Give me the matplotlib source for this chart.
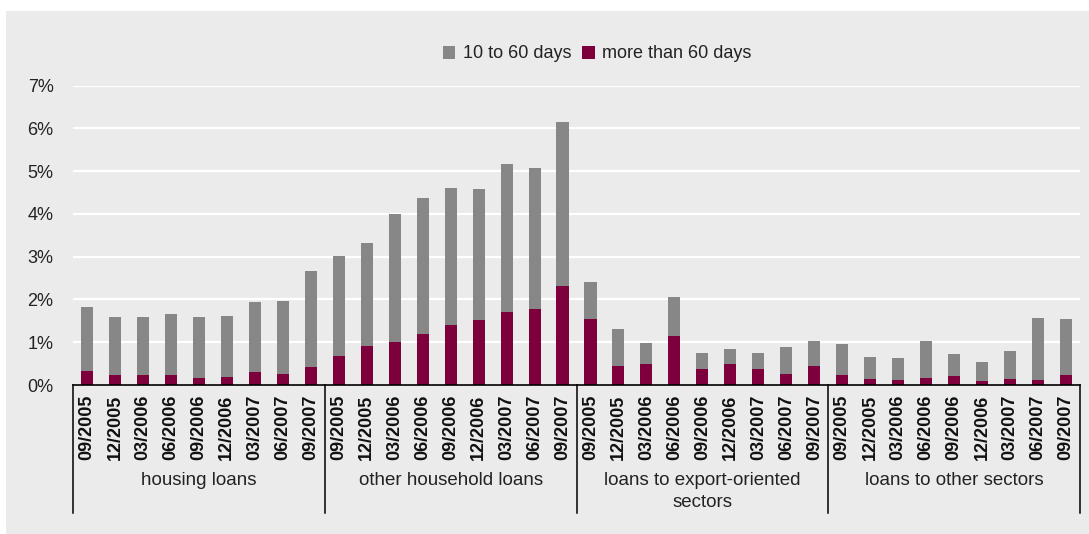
import numpy as np
import matplotlib.pyplot as plt
from matplotlib.patches import Rectangle
import matplotlib.transforms as mtransforms

plt.rcParams['font.family'] = ['Liberation Sans', 'DejaVu Sans']

quarters = ['09/2005', '12/2005', '03/2006', '06/2006', '09/2006',
            '12/2006', '03/2007', '06/2007', '09/2007']
groups = ['housing loans', 'other household loans',
          'loans to export-oriented\nsectors', 'loans to other sectors']

# share of loans more than 60 days overdue (%)
over_60 = [0.33, 0.23, 0.23, 0.23, 0.16, 0.19, 0.30, 0.26, 0.42,
           0.68, 0.91, 1.00, 1.19, 1.40, 1.52, 1.71, 1.78, 2.31,
           1.54, 0.44, 0.49, 1.14, 0.37, 0.49, 0.37, 0.26, 0.44,
           0.23, 0.14, 0.12, 0.16, 0.21, 0.09, 0.14, 0.12, 0.23]
# total overdue more than 10 days (%)
total = [1.82, 1.59, 1.59, 1.66, 1.59, 1.61, 1.94, 1.96, 2.66,
         3.01, 3.32, 4.00, 4.37, 4.60, 4.58, 5.16, 5.07, 6.14,
         2.41, 1.31, 0.98, 2.06, 0.75, 0.84, 0.75, 0.89, 1.03,
         0.96, 0.65, 0.63, 1.03, 0.72, 0.54, 0.79, 1.57, 1.54]
days_10_60 = list(np.array(total) - np.array(over_60))

GREY = '#878787'
MAROON = '#7d003d'
BG = '#ebebeb'

fig = plt.figure(figsize=(10.89, 5.34), dpi=100)
fig.patch.set_facecolor('white')
fig.patches.append(Rectangle((6 / 1089, 0), 1, 1 - 11 / 534, transform=fig.transFigure,
                             facecolor=BG, edgecolor='none', zorder=-10))

ax = fig.add_axes([73 / 1089, 149 / 534, 1007 / 1089, 299.5 / 534])
ax.set_facecolor(BG)

x = np.arange(len(total))
ax.bar(x, over_60, width=0.43, color=MAROON, label='more than 60 days', zorder=3)
ax.bar(x, days_10_60, width=0.43, bottom=over_60, color=GREY, label='10 to 60 days', zorder=3)

ax.set_xlim(-0.5, len(total) - 0.5)
ax.set_ylim(0, 7)
ax.set_yticks(range(8))
ax.set_yticklabels([f'{v}%' for v in range(8)], fontsize=13, color='#222222')
for v in range(1, 8):
    ax.axhline(v, color='white', lw=1.6, zorder=1)

ax.set_xticks(x)
ax.set_xticklabels(quarters * len(groups), rotation=90, fontsize=13,
                   fontweight='bold', color='#111111')
ax.tick_params(axis='both', length=0)
ax.tick_params(axis='x', pad=7)
ax.tick_params(axis='y', pad=14)

for s in ['left', 'right', 'top']:
    ax.spines[s].set_visible(False)
ax.spines['bottom'].set_color('black')
ax.spines['bottom'].set_linewidth(1.2)
ax.spines['bottom'].set_zorder(4)

# group separators and group names under the date labels
trans = mtransforms.blended_transform_factory(ax.transData, ax.transAxes)
n = len(quarters)
for k in range(len(groups) + 1):
    xs = k * n - 0.5
    ax.plot([xs, xs], [0, -0.427], transform=trans, color='black', lw=1.1,
            clip_on=False, zorder=4)
for k, name in enumerate(groups):
    ax.text(k * n + (n - 1) / 2, -0.29, name, transform=trans, ha='center', va='top',
            fontsize=13.5, color='#222222', linespacing=1.4)

handles, labels = ax.get_legend_handles_labels()
fig.legend(handles[::-1], labels[::-1], loc='center', ncol=2,
           bbox_to_anchor=(597 / 1089, 1 - 54 / 534), frameon=False,
           fontsize=13, handlelength=0.7, handleheight=0.7, handletextpad=0.4,
           columnspacing=0.6, labelcolor='#222222')

fig.savefig('out.png', dpi=100, facecolor=fig.get_facecolor())
